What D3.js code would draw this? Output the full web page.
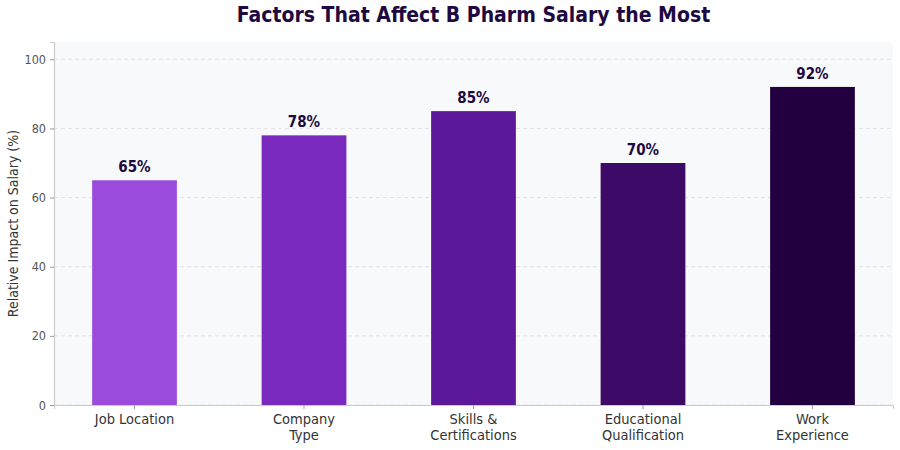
<!DOCTYPE html>
<html>
<head>
<meta charset="utf-8">
<script src="https://cdn.jsdelivr.net/npm/d3@7"></script>
<style>
  body { margin: 0; background: #ffffff; }
  text { font-family: "DejaVu Sans Condensed", "DejaVu Sans", sans-serif; }
</style>
</head>
<body>
<div id="chart"></div>
<script>
// data
const factors = [["Job Location"], ["Company", "Type"], ["Skills &", "Certifications"], ["Educational", "Qualification"], ["Work", "Experience"]];
const impact = [65, 78, 85, 70, 92];
const barColors = ["#9a4bdc", "#7a29bf", "#5c179a", "#3d0a68", "#22003f"];
const yTicks = [0, 20, 40, 60, 80, 100];

// set the dimensions and margins of the graph
var margin = { top: 42, right: 7, bottom: 45, left: 54 },
  width = 900 - margin.left - margin.right,
  height = 450 - margin.top - margin.bottom;

var svg = d3.select("#chart").append("svg")
  .attr("width", 900)
  .attr("height", 450);

var g = svg.append("g")
  .attr("transform", `translate(${margin.left},${margin.top})`);

var x = d3.scaleBand()
  .domain(d3.range(impact.length))
  .range([0, width])
  .paddingInner(0.5)
  .paddingOuter(0.225);
var y = d3.scaleLinear().domain([0, 105]).range([height, 0]);

// plot background
g.append("rect")
  .attr("width", width)
  .attr("height", height)
  .attr("fill", "#f8f9fb");

// grid lines
g.append("g")
  .selectAll("line")
  .data(yTicks)
  .join("line")
  .attr("x1", 0)
  .attr("x2", width)
  .attr("y1", d => y(d))
  .attr("y2", d => y(d))
  .attr("stroke", "#dcdde3")
  .attr("stroke-width", 0.8)
  .attr("stroke-dasharray", "4,3");

// bars
g.selectAll(".bar")
  .data(impact)
  .join("rect")
  .attr("class", "bar")
  .attr("x", (d, i) => x(i))
  .attr("y", d => y(d))
  .attr("width", x.bandwidth())
  .attr("height", d => height - y(d))
  .attr("fill", (d, i) => barColors[i]);

// value labels
g.selectAll(".val")
  .data(impact)
  .join("text")
  .attr("class", "val")
  .attr("x", (d, i) => x(i) + x.bandwidth() / 2)
  .attr("y", d => y(d) - 8)
  .attr("text-anchor", "middle")
  .style("font-size", "15px")
  .style("font-weight", "bold")
  .style("fill", "#1e0a40")
  .text(d => d + "%");

// Y axis
var yAxis = g.append("g")
  .call(d3.axisLeft(y).tickValues(yTicks).tickSize(4).tickPadding(4));
yAxis.select(".domain").attr("stroke", "#cccccc").attr("stroke-width", 1.2);
yAxis.selectAll(".tick line").attr("stroke", "#999999");
yAxis.selectAll(".tick text")
  .style("font-size", "12.5px")
  .style("font-family", "'DejaVu Sans Condensed', 'DejaVu Sans', sans-serif")
  .style("fill", "#555555");

// X axis
var xAxis = g.append("g")
  .attr("transform", `translate(0,${height})`)
  .call(d3.axisBottom(x).tickSize(4).tickFormat(""));
xAxis.select(".domain").attr("stroke", "#cccccc").attr("stroke-width", 1.2);
xAxis.selectAll(".tick line").attr("stroke", "#999999");

// multi-line category labels
g.append("g")
  .selectAll("text")
  .data(factors)
  .join("text")
  .attr("x", (d, i) => x(i) + x.bandwidth() / 2)
  .attr("y", height + 19)
  .attr("text-anchor", "middle")
  .style("font-size", "14.5px")
  .style("fill", "#333333")
  .each(function (d) {
    d3.select(this).selectAll("tspan")
      .data(d)
      .join("tspan")
      .attr("x", d3.select(this).attr("x"))
      .attr("dy", (t, j) => j === 0 ? 0 : "16px")
      .text(t => t);
  });

// Y axis label
svg.append("text")
  .attr("transform", `translate(18,${margin.top + height / 2}) rotate(-90)`)
  .attr("text-anchor", "middle")
  .style("font-size", "14px")
  .style("fill", "#333333")
  .text("Relative Impact on Salary (%)");

// title
svg.append("text")
  .attr("x", margin.left + width / 2)
  .attr("y", 22)
  .attr("text-anchor", "middle")
  .style("font-size", "21px")
  .style("font-weight", "bold")
  .style("fill", "#1e0a40")
  .text("Factors That Affect B Pharm Salary the Most");
</script>
</body>
</html>
